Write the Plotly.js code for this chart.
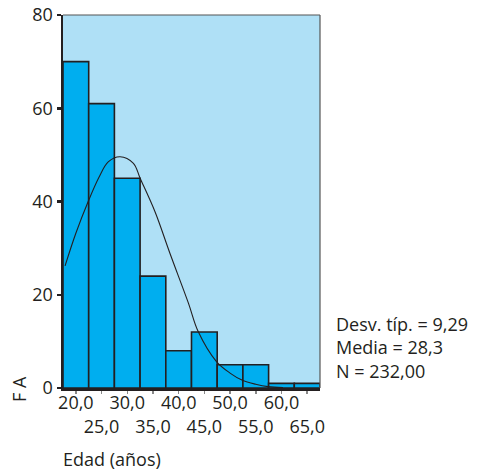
<!DOCTYPE html>
<html>
<head>
<meta charset="utf-8">
<script src="https://cdn.plot.ly/plotly-3.0.1.min.js"></script>
<style>html,body{margin:0;padding:0;background:#fff;}#chart{width:477px;height:472px;}</style>
</head>
<body>
<div id="chart"></div>
<script>
// Bin midpoints (años) and frequencies (FA)
const binCenters = [20, 25, 30, 35, 40, 45, 50, 55, 60, 65];
const frequencies = [70, 61, 45, 24, 8, 12, 5, 5, 1, 1];
const tickLabels = ["20,0", "<br>25,0", "30,0", "<br>35,0", "40,0", "<br>45,0", "50,0", "<br>55,0", "60,0", "<br>65,0"];
// Normal curve points
const curveX = [17.9, 20.0, 22.4, 24.5, 26.3, 28.6, 31.2, 32.5, 35.4, 38.3, 41.9, 43.8, 47.4, 50.0, 52.3, 55.0, 57.4, 60.3];
const curveY = [26.2, 33.2, 40.0, 45.2, 48.5, 49.6, 48.2, 45.0, 37.8, 28.9, 18.2, 12.1, 5.6, 3.2, 1.7, 0.8, 0.3, 0.1];
const statsLines = ["Desv. típ. = 9,29", "Media = 28,3", "N = 232,00"];
const xTitle = "Edad (años)";
const yTitle = "F A";

const font = "Open Sans, Noto Sans, sans-serif";
const fs = 18;

const traces = [
  {
    type: "bar",
    x: binCenters,
    y: frequencies,
    width: 5,
    marker: { color: "#00aeef", line: { color: "#231f20", width: 1.6 } },
    hoverinfo: "skip"
  },
  {
    type: "scatter",
    mode: "lines",
    x: curveX,
    y: curveY,
    line: { color: "#231f20", width: 1.1, shape: "spline" },
    hoverinfo: "skip"
  }
];

const layout = {
  width: 477,
  height: 472,
  margin: { l: 63, r: 157, t: 15, b: 84 },
  paper_bgcolor: "#ffffff",
  plot_bgcolor: "#afe0f6",
  showlegend: false,
  bargap: 0,
  font: { family: font, size: fs, color: "#231f20" },
  xaxis: {
    range: [17.5, 67.5],
    tickmode: "array",
    tickvals: binCenters,
    ticktext: tickLabels,
    tickangle: 0,
    ticks: "outside",
    ticklen: 3,
    tickwidth: 1.5,
    tickcolor: "#888888",
    ticklabelstandoff: -6,
    showline: true,
    linecolor: "#231f20",
    linewidth: 2.5,
    showgrid: false,
    zeroline: false,
    tickfont: { family: font, size: fs, color: "#231f20" }
  },
  yaxis: {
    range: [0, 80],
    tickvals: [0, 20, 40, 60, 80],
    ticks: "outside",
    ticklen: 4,
    tickwidth: 2.5,
    tickcolor: "#231f20",
    showline: true,
    linecolor: "#231f20",
    linewidth: 2.5,
    showgrid: false,
    zeroline: false,
    tickfont: { family: font, size: fs, color: "#231f20" }
  },
  shapes: [
    { type: "line", xref: "paper", yref: "paper", x0: 0, x1: 1, y0: 1, y1: 1, line: { color: "#555555", width: 1.2 } },
    { type: "line", xref: "paper", yref: "paper", x0: 1, x1: 1, y0: 0, y1: 1, line: { color: "#555555", width: 1.2 } }
  ],
  annotations: [
    {
      xref: "paper", yref: "paper", x: 0, y: 0, xanchor: "left", yanchor: "middle",
      xshift: -2, yshift: -71, showarrow: false,
      text: xTitle, font: { family: font, size: fs, color: "#231f20" }
    },
    {
      xref: "paper", yref: "paper", x: 0, y: 0, xanchor: "center", yanchor: "middle",
      xshift: -44, yshift: -1, showarrow: false, textangle: -90,
      text: yTitle, font: { family: font, size: fs, color: "#231f20" }
    },
    {
      xref: "paper", yref: "paper", x: 1, y: 0, xanchor: "left", yanchor: "bottom",
      xshift: 14, yshift: 3, showarrow: false, align: "left",
      text: statsLines.join("<br>"), font: { family: font, size: fs, color: "#231f20" }
    }
  ]
};

Plotly.newPlot("chart", traces, layout, { staticPlot: true, displayModeBar: false });
</script>
</body>
</html>
